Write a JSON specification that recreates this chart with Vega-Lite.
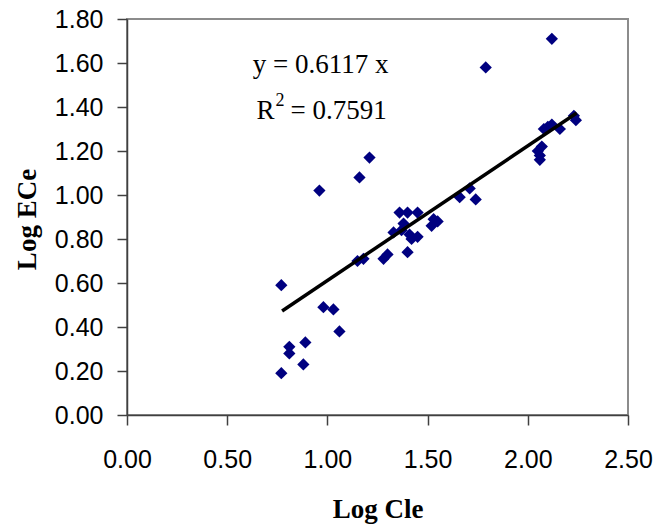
{
  "$schema": "https://vega.github.io/schema/vega-lite/v6.json",
  "width": 501,
  "height": 396,
  "autosize": {"type": "none"},
  "padding": {"left": 127, "top": 19, "right": 28, "bottom": 109},
  "background": "white",
  "config": {
    "view": {"stroke": "#8c8c8c", "strokeWidth": 2},
    "axis": {
      "grid": false,
      "domainColor": "#404040",
      "domainWidth": 1.5,
      "tickColor": "#404040",
      "tickWidth": 1.5,
      "tickSize": 10,
      "labelFont": "Liberation Sans",
      "labelFontSize": 25,
      "labelColor": "#000000",
      "titleFont": "Liberation Serif",
      "titleFontSize": 27,
      "titleFontWeight": "bold",
      "titleColor": "#000000"
    }
  },
  "datasets": {
    "points": [
      {"cle": 2.12, "ece": 1.71}, {"cle": 1.79, "ece": 1.58}, {"cle": 0.96, "ece": 1.02},
      {"cle": 1.16, "ece": 1.08}, {"cle": 1.21, "ece": 1.17}, {"cle": 2.23, "ece": 1.36},
      {"cle": 2.24, "ece": 1.34}, {"cle": 2.08, "ece": 1.30}, {"cle": 2.12, "ece": 1.32},
      {"cle": 2.16, "ece": 1.30}, {"cle": 2.10, "ece": 1.31}, {"cle": 2.07, "ece": 1.22},
      {"cle": 2.05, "ece": 1.20}, {"cle": 2.06, "ece": 1.18}, {"cle": 2.06, "ece": 1.16},
      {"cle": 1.71, "ece": 1.03}, {"cle": 1.74, "ece": 0.98}, {"cle": 1.66, "ece": 0.99},
      {"cle": 1.36, "ece": 0.92}, {"cle": 1.40, "ece": 0.92}, {"cle": 1.45, "ece": 0.92},
      {"cle": 1.38, "ece": 0.87}, {"cle": 1.53, "ece": 0.89}, {"cle": 1.55, "ece": 0.88},
      {"cle": 1.52, "ece": 0.86}, {"cle": 1.33, "ece": 0.83}, {"cle": 1.37, "ece": 0.84},
      {"cle": 1.41, "ece": 0.82}, {"cle": 1.42, "ece": 0.80}, {"cle": 1.45, "ece": 0.81},
      {"cle": 1.40, "ece": 0.74}, {"cle": 1.28, "ece": 0.71}, {"cle": 1.30, "ece": 0.73},
      {"cle": 1.15, "ece": 0.70}, {"cle": 1.18, "ece": 0.71}, {"cle": 0.77, "ece": 0.59},
      {"cle": 0.98, "ece": 0.49}, {"cle": 1.03, "ece": 0.48}, {"cle": 1.06, "ece": 0.38},
      {"cle": 0.81, "ece": 0.31}, {"cle": 0.89, "ece": 0.33}, {"cle": 0.81, "ece": 0.28},
      {"cle": 0.88, "ece": 0.23}, {"cle": 0.77, "ece": 0.19}
    ],
    "fit": [
      {"cle": 0.774, "ece": 0.473},
      {"cle": 2.244, "ece": 1.373}
    ],
    "eq": [
      {"cle": 0.627, "ece": 1.556}
    ],
    "r2": [
      {"cle": 0.646, "ece": 1.345}
    ]
  },
  "layer": [
    {
      "data": {"name": "points"},
      "mark": {"type": "point", "shape": "diamond", "filled": true, "color": "#000080", "opacity": 1, "size": 150},
      "encoding": {
        "x": {
          "field": "cle", "type": "quantitative",
          "scale": {"domain": [0, 2.5], "nice": false, "zero": false},
          "axis": {
            "title": "Log Cle",
            "values": [0, 0.5, 1, 1.5, 2, 2.5],
            "format": ".2f",
            "labelPadding": 22,
            "labelFlush": false,
            "labelOverlap": false,
            "titleBaseline": "alphabetic",
            "titleY": 102
          }
        },
        "y": {
          "field": "ece", "type": "quantitative",
          "scale": {"domain": [0, 1.8], "nice": false, "zero": false},
          "axis": {
            "title": "Log ECe",
            "values": [0, 0.2, 0.4, 0.6, 0.8, 1, 1.2, 1.4, 1.6, 1.8],
            "format": ".2f",
            "labelPadding": 14,
            "labelFlush": false,
            "labelOverlap": false,
            "titleBaseline": "alphabetic",
            "titleX": -92,
            "titleY": 200
          }
        }
      }
    },
    {
      "data": {"name": "fit"},
      "mark": {"type": "line", "color": "#000000", "strokeWidth": 3.5},
      "encoding": {
        "x": {"field": "cle", "type": "quantitative"},
        "y": {"field": "ece", "type": "quantitative"}
      }
    },
    {
      "data": {"name": "eq"},
      "mark": {"type": "text", "font": "Liberation Serif", "fontSize": 27, "align": "left", "baseline": "alphabetic", "color": "#000000", "text": "y = 0.6117 x"},
      "encoding": {
        "x": {"field": "cle", "type": "quantitative"},
        "y": {"field": "ece", "type": "quantitative"}
      }
    },
    {
      "data": {"name": "r2"},
      "mark": {"type": "text", "font": "Liberation Serif", "fontSize": 27, "align": "left", "baseline": "alphabetic", "color": "#000000", "text": "R"},
      "encoding": {
        "x": {"field": "cle", "type": "quantitative"},
        "y": {"field": "ece", "type": "quantitative"}
      }
    },
    {
      "data": {"name": "r2"},
      "mark": {"type": "text", "font": "Liberation Serif", "fontSize": 18, "align": "left", "baseline": "alphabetic", "color": "#000000", "text": "2", "dx": 19, "dy": -13},
      "encoding": {
        "x": {"field": "cle", "type": "quantitative"},
        "y": {"field": "ece", "type": "quantitative"}
      }
    },
    {
      "data": {"name": "r2"},
      "mark": {"type": "text", "font": "Liberation Serif", "fontSize": 27, "align": "left", "baseline": "alphabetic", "color": "#000000", "text": "= 0.7591", "dx": 34},
      "encoding": {
        "x": {"field": "cle", "type": "quantitative"},
        "y": {"field": "ece", "type": "quantitative"}
      }
    }
  ]
}
